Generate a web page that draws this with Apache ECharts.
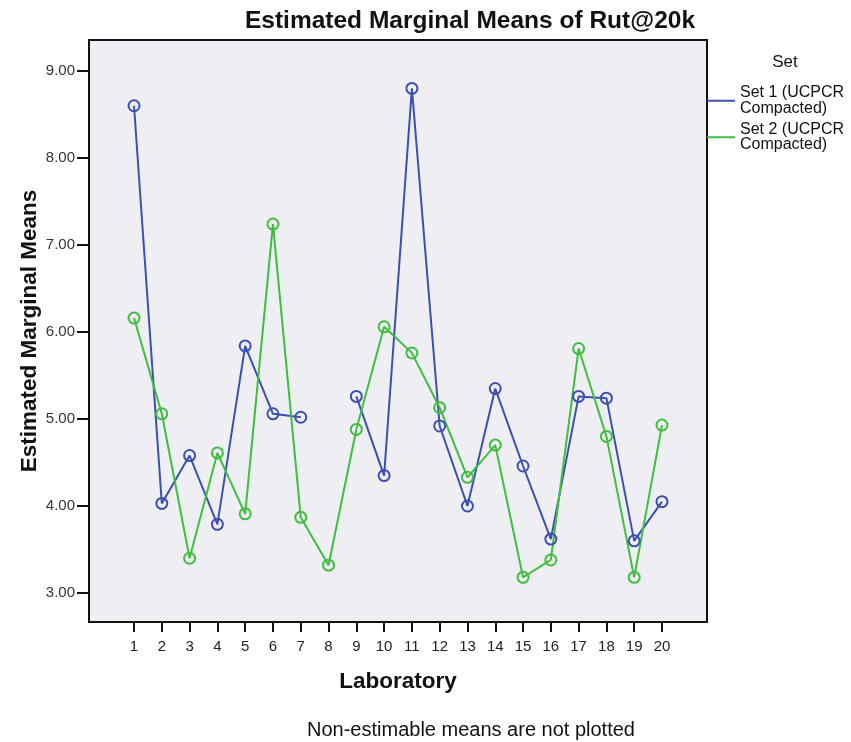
<!DOCTYPE html>
<html>
<head>
<meta charset="utf-8">
<script src="https://cdn.jsdelivr.net/npm/echarts@6/dist/echarts.min.js"></script>
<style>html,body{margin:0;padding:0;background:#fff}#c{width:851px;height:742px}</style>
</head>
<body>
<div id="c"></div>
<script>
const labs = [1,2,3,4,5,6,7,8,9,10,11,12,13,14,15,16,17,18,19,20];
const set1 = [8.60,4.03,4.58,3.79,5.84,5.06,5.02,null,5.26,4.35,8.80,4.92,4.00,5.35,4.46,3.62,5.26,5.24,3.60,4.05];
const set2 = [6.16,5.06,3.40,4.61,3.91,7.24,3.87,3.32,4.88,6.06,5.76,5.13,4.33,4.70,3.18,3.38,5.81,4.80,3.18,4.93];
const yTicks = [3,4,5,6,7,8,9];
const seriesNames = ['Set 1 (UCPCR\nCompacted)', 'Set 2 (UCPCR\nCompacted)'];
const colors = ['#3c50b0', '#3fbe3f'];

const chart = echarts.init(document.getElementById('c'), null, {renderer:'canvas'});
function mk(name, vals, color){
  return {
    name: name, type: 'line',
    data: labs.map((l,i)=>[l, vals[i]]),
    connectNulls: false,
    symbol: 'circle', symbolSize: 11,
    lineStyle: {color: color, width: 2},
    itemStyle: {color: 'rgba(0,0,0,0)', borderColor: color, borderWidth: 2},
    emphasis: {disabled: true},
    animation: false
  };
}
chart.setOption({
  animation: false,
  title: [
    {text: 'Estimated Marginal Means of Rut@20k', left: 465, top: 4, textAlign: 'center',
     textStyle: {fontFamily: 'Liberation Sans', fontWeight: 'bold', fontSize: 24.5, color: '#111'}},
    {text: 'Set', left: 780, top: 49, textAlign: 'center',
     textStyle: {fontFamily: 'Liberation Sans', fontWeight: 'normal', fontSize: 17, color: '#111'}},
    {text: 'Non-estimable means are not plotted', left: 466, top: 715, textAlign: 'center',
     textStyle: {fontFamily: 'Liberation Sans', fontWeight: 'normal', fontSize: 20, color: '#111'}}
  ],
  legend: {
    orient: 'vertical', left: 707, top: 85, padding: 0,
    icon: 'rect', itemWidth: 28, itemHeight: 2, itemGap: 5,
    selectedMode: false,
    textStyle: {fontFamily: 'Liberation Sans', fontSize: 16, lineHeight: 15.5, color: '#111'},
    data: seriesNames.map((n,i)=>({name: n, itemStyle: {color: colors[i], borderWidth: 0}}))
  },
  grid: {left: 89, top: 40, right: 144, bottom: 120, show: true,
         backgroundColor: '#efeff3', borderColor: '#111', borderWidth: 2},
  xAxis: {
    type: 'value', min: -0.62, max: 21.62,
    name: 'Laboratory', nameLocation: 'middle', nameGap: 48, nameMoveOverlap: false,
    nameTextStyle: {fontFamily: 'Liberation Sans', fontWeight: 'bold', fontSize: 22.5, color: '#111'},
    axisLine: {show: false, onZero: false},
    splitLine: {show: false},
    axisTick: {show: true, inside: false, customValues: labs, length: 10, lineStyle: {color: '#111', width: 2}},
    axisLabel: {customValues: labs, margin: 17, fontFamily: 'Liberation Sans', fontSize: 15, color: '#222'}
  },
  yAxis: {
    type: 'value', min: 2.667, max: 9.356,
    name: 'Estimated Marginal Means', nameLocation: 'middle', nameGap: 48, nameMoveOverlap: false,
    nameTextStyle: {fontFamily: 'Liberation Sans', fontWeight: 'bold', fontSize: 22.5, color: '#111'},
    axisLine: {show: false, onZero: false},
    splitLine: {show: false},
    axisTick: {show: true, inside: false, customValues: yTicks, length: 12, lineStyle: {color: '#111', width: 2}},
    axisLabel: {customValues: yTicks, margin: 14, fontFamily: 'Liberation Sans', fontSize: 15, color: '#333',
                formatter: v => v.toFixed(2)}
  },
  series: [mk(seriesNames[0], set1, colors[0]), mk(seriesNames[1], set2, colors[1])]
});
</script>
</body>
</html>
